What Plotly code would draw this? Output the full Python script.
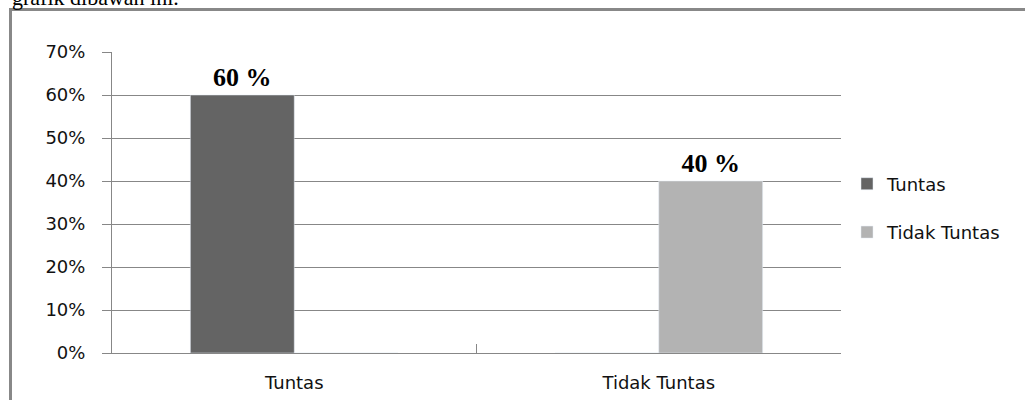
import plotly.graph_objects as go

categories = ["Tuntas", "Tidak Tuntas"]
tuntas_values = [0.60, 0.0]
tidak_tuntas_values = [0.0, 0.40]
y_tick_values = [0, 0.1, 0.2, 0.3, 0.4, 0.5, 0.6, 0.7]
y_tick_labels = ["0%", "10%", "20%", "30%", "40%", "50%", "60%", "70%"]

W, H = 1025, 400
L, R, T, B = 112, 184, 52, 47
pw, ph = W - L - R, H - T - B

def px_x(p):
    return (p - L) / pw

def px_y(p):
    return 1 - (p - T) / ph

def lbl(vals):
    return [f"{round(v * 100)} %" if v else "" for v in vals]

label_font = dict(family="Liberation Serif", size=26, color="black")

fig = go.Figure()
fig.add_trace(go.Bar(
    name="Tuntas", x=categories, y=tuntas_values, marker_color="#646464",
    text=lbl(tuntas_values), textposition="outside", textfont=label_font,
    texttemplate="<b>%{text}</b>", cliponaxis=False, legendgroup="a",
))
fig.add_trace(go.Bar(
    name="Tidak Tuntas", x=categories, y=tidak_tuntas_values, marker_color="#b3b3b3",
    text=lbl(tidak_tuntas_values), textposition="outside", textfont=label_font,
    texttemplate="<b>%{text}</b>", cliponaxis=False, legendgroup="b",
))

grid = "#878787"
fig.update_layout(
    width=W, height=H,
    margin=dict(l=L, r=R, t=T, b=B, autoexpand=False),
    paper_bgcolor="white", plot_bgcolor="white",
    font=dict(family="DejaVu Sans", size=18, color="#111111"),
    barmode="group", bargap=0.43, bargroupgap=0,
    showlegend=True,
    legend=dict(x=px_x(847), xanchor="left", y=px_y(208), yanchor="middle",
                traceorder="grouped", tracegroupgap=22,
                itemwidth=30,
                font=dict(family="DejaVu Sans", size=18, color="#111111"),
                bgcolor="rgba(0,0,0,0)"),
    xaxis=dict(showline=True, linecolor=grid, linewidth=1, automargin=False,
               ticks="inside", tickson="boundaries", ticklen=9, tickcolor=grid,
               showgrid=False, ticklabelstandoff=13),
    yaxis=dict(range=[0, 0.7], tickvals=y_tick_values, ticktext=y_tick_labels,
               showline=True, linecolor=grid, linewidth=1, automargin=False,
               ticks="outside", ticklen=9, tickcolor=grid,
               showgrid=True, gridcolor=grid, gridwidth=1,
               zeroline=False, ticklabelstandoff=13),
    shapes=[dict(type="rect", xref="paper", yref="paper",
                 x0=px_x(10.5), x1=px_x(1030), y0=px_y(410), y1=px_y(9.5),
                 line=dict(color="#888888", width=3), fillcolor="rgba(0,0,0,0)",
                 layer="below")],
    annotations=[dict(text="grafik dibawah ini.", xref="paper", yref="paper",
                      x=px_x(10), xanchor="left", y=px_y(-3), yanchor="middle",
                      showarrow=False,
                      font=dict(family="Liberation Serif", size=22, color="black"))],
)

fig.write_html("out.html")
